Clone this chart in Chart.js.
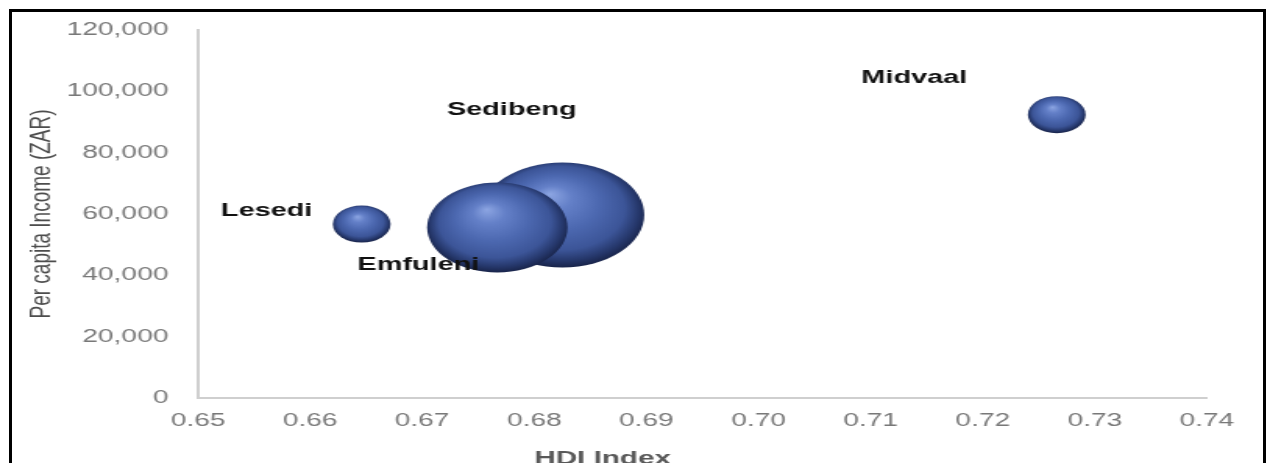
<!DOCTYPE html>
<html>
<head>
<meta charset="utf-8">
<title>Sedibeng municipalities: HDI vs per capita income</title>
<script src="https://cdn.jsdelivr.net/npm/chart.js@4.4.1/dist/chart.umd.min.js"></script>
<style>
  html, body { margin: 0; padding: 0; background: #fff; overflow: hidden; }
  #stage { position: relative; width: 1270px; height: 463px; overflow: hidden; }
  #frame { position: absolute; left: 9px; top: 9px; width: 1251px; height: 520px;
           border: 3px solid #000; pointer-events: none; }
  /* the chart is laid out narrow and widened horizontally, which gives the wide lettering and oval bubbles */
  #plot { position: absolute; left: 0; top: 0; transform-origin: 0 0; transform: scaleX(1.5602); }
</style>
</head>
<body>
<div id="stage">
  <canvas id="plot" width="814" height="463"></canvas>
  <div id="frame"></div>
</div>
<script>
// Municipalities in the district (largest bubble first so smaller ones sit on top)
const municipalities = ['Sedibeng', 'Emfuleni', 'Lesedi', 'Midvaal'];
const hdiIndex       = [0.6825, 0.6767, 0.6646, 0.7266];
const incomePerCap   = [59700, 55600, 56700, 92400];
const bubbleRadius   = [52.5, 45, 18.5, 18.5];

// Axis tick values
const hdiTicks    = [0.65, 0.66, 0.67, 0.68, 0.69, 0.70, 0.71, 0.72, 0.73, 0.74];
const incomeTicks = [0, 20000, 40000, 60000, 80000, 100000, 120000];

// Name label placement relative to each bubble centre (px)
const labelOffsets = [[-32.4, -105.5], [-50.6, 37.5], [-60.9, -13.5], [-91.3, -37]];

const W = 814, H = 463;
const PLOT_LEFT = 126.9, PLOT_RIGHT = 773.6, PLOT_TOP = 30, PLOT_BOTTOM = 398;
const X_AXIS_H = 45;

function sphereFill(c) {
  const solid = 'rgb(74,101,172)';
  if (c.type !== 'data' || !c.raw) return solid;
  const chart = c.chart;
  const x = chart.scales.x.getPixelForValue(c.raw.x);
  const y = chart.scales.y.getPixelForValue(c.raw.y);
  const r = c.raw.r;
  if (!isFinite(x) || !isFinite(y) || !isFinite(r)) return solid;
  const g = chart.ctx.createRadialGradient(x - 0.15 * r, y - 0.4 * r, 0, x, y - 0.04 * r, r * 1.05);
  g.addColorStop(0.00, 'rgb(140,165,226)');
  g.addColorStop(0.22, 'rgb(100,128,200)');
  g.addColorStop(0.50, 'rgb(76,104,176)');
  g.addColorStop(0.76, 'rgb(60,85,152)');
  g.addColorStop(0.90, 'rgb(38,56,108)');
  g.addColorStop(1.00, 'rgb(24,35,72)');
  return g;
}

const nameLabels = {
  id: 'nameLabels',
  afterDatasetsDraw(chart) {
    const ctx = chart.ctx;
    const meta = chart.getDatasetMeta(0);
    ctx.save();
    ctx.font = 'bold 18.5px "Liberation Sans", Arial, sans-serif';
    ctx.fillStyle = '#111';
    ctx.textAlign = 'center';
    ctx.textBaseline = 'middle';
    meta.data.forEach((el, i) => {
      const [dx, dy] = labelOffsets[i];
      ctx.fillText(municipalities[i], el.x + dx, el.y + dy);
    });
    ctx.restore();
  }
};

const xAxisTitle = {
  id: 'xAxisTitle',
  afterDraw(chart) {
    const { ctx, chartArea } = chart;
    ctx.save();
    ctx.font = 'bold 19px "Liberation Sans", Arial, sans-serif';
    ctx.fillStyle = '#595959';
    ctx.textAlign = 'center';
    ctx.textBaseline = 'alphabetic';
    ctx.fillText('HDI Index', chartArea.left + 0.401 * (chartArea.right - chartArea.left), chartArea.bottom + 66);
    ctx.restore();
  }
};

new Chart(document.getElementById('plot'), {
  type: 'bubble',
  data: {
    datasets: [{
      label: 'Municipalities',
      data: municipalities.map((m, i) => ({ x: hdiIndex[i], y: incomePerCap[i], r: bubbleRadius[i] })),
      backgroundColor: sphereFill,
      borderWidth: 0,
      clip: false
    }]
  },
  options: {
    responsive: false,
    animation: false,
    events: [],
    layout: {
      autoPadding: false,
      padding: { left: 0, top: PLOT_TOP, right: W - PLOT_RIGHT, bottom: H - PLOT_BOTTOM - X_AXIS_H }
    },
    plugins: { legend: { display: false }, tooltip: { enabled: false } },
    scales: {
      x: {
        type: 'linear',
        min: hdiTicks[0],
        max: hdiTicks[hdiTicks.length - 1],
        afterBuildTicks: s => { s.ticks = hdiTicks.map(v => ({ value: v })); },
        afterFit: s => { s.height = X_AXIS_H; },
        grid: { display: false, drawTicks: false },
        border: { display: true, color: '#cfcfcf', width: 2 },
        ticks: {
          autoSkip: false, maxRotation: 0, padding: 12,
          color: '#787878',
          font: { family: '"Liberation Sans", Arial, sans-serif', size: 18 },
          callback: v => Number(v).toFixed(2)
        }
      },
      y: {
        type: 'linear',
        min: incomeTicks[0],
        max: incomeTicks[incomeTicks.length - 1],
        afterBuildTicks: s => { s.ticks = incomeTicks.map(v => ({ value: v })); },
        afterFit: s => { s.width = PLOT_LEFT; },
        grid: { display: false, drawTicks: false },
        border: { display: true, color: '#cfcfcf', width: 2 },
        ticks: {
          padding: 19,
          color: '#787878',
          font: { family: '"Liberation Sans", Arial, sans-serif', size: 18 },
          callback: v => Number(v).toLocaleString('en-US')
        },
        title: {
          display: true,
          text: 'Per capita Income (ZAR)',
          color: '#4d4d4d',
          font: { family: '"Liberation Sans", Arial, sans-serif', size: 19 },
          padding: { top: 15, bottom: 0 }
        }
      }
    }
  },
  plugins: [nameLabels, xAxisTitle]
});
</script>
</body>
</html>
